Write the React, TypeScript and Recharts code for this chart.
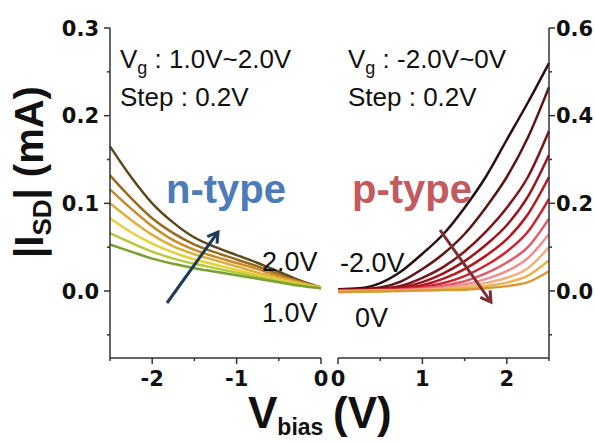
import React from "react";
import { LineChart, Line, XAxis, YAxis } from "recharts";

// Two-panel transfer curves: n-type branch (left, negative bias) and
// p-type branch (right, positive bias).

const N_BIAS = [-2.5, -2.25, -2, -1.75, -1.5, -1.25, -1, -0.75, -0.5, -0.25, 0];
const P_BIAS = [0, 0.25, 0.5, 0.75, 1, 1.25, 1.5, 1.75, 2, 2.25, 2.5];

// left panel, top curve (highest Vg) first
const N_CURVES: number[][] = [
  [0.165, 0.13, 0.1, 0.078, 0.061, 0.05, 0.041, 0.032, 0.022, 0.012, 0.004],
  [0.132, 0.106, 0.083, 0.066, 0.053, 0.044, 0.036, 0.028, 0.019, 0.011, 0.004],
  [0.116, 0.094, 0.074, 0.058, 0.047, 0.039, 0.032, 0.025, 0.017, 0.01, 0.004],
  [0.1, 0.081, 0.064, 0.051, 0.042, 0.035, 0.028, 0.021, 0.015, 0.009, 0.004],
  [0.083, 0.067, 0.054, 0.044, 0.036, 0.03, 0.024, 0.018, 0.013, 0.008, 0.004],
  [0.066, 0.055, 0.045, 0.037, 0.031, 0.026, 0.021, 0.016, 0.011, 0.007, 0.003],
  [0.053, 0.045, 0.037, 0.031, 0.026, 0.022, 0.018, 0.014, 0.01, 0.006, 0.003],
];
const N_COLORS = ["#5b4a1c", "#9a6b1f", "#c98a2a", "#dcae3a", "#e6cf3a", "#b9c83a", "#79a030"];

// right panel, Vg = -2.0V (top) ... 0V (bottom)
const P_CURVES: number[][] = [
  [0.004, 0.006, 0.018, 0.045, 0.085, 0.13, 0.19, 0.26, 0.345, 0.43, 0.52],
  [0.003, 0.004, 0.008, 0.022, 0.05, 0.085, 0.13, 0.19, 0.26, 0.35, 0.465],
  [0.002, 0.003, 0.005, 0.012, 0.03, 0.055, 0.09, 0.135, 0.19, 0.26, 0.365],
  [0.002, 0.002, 0.004, 0.008, 0.02, 0.04, 0.068, 0.105, 0.15, 0.215, 0.31],
  [0.001, 0.002, 0.003, 0.006, 0.013, 0.028, 0.05, 0.08, 0.118, 0.175, 0.26],
  [0.001, 0.001, 0.002, 0.004, 0.009, 0.018, 0.034, 0.058, 0.09, 0.135, 0.21],
  [0, 0.001, 0.002, 0.003, 0.006, 0.012, 0.022, 0.04, 0.065, 0.1, 0.165],
  [0, 0, 0.001, 0.002, 0.004, 0.008, 0.015, 0.027, 0.045, 0.075, 0.13],
  [-0.001, 0, 0.001, 0.001, 0.003, 0.005, 0.01, 0.018, 0.03, 0.052, 0.1],
  [-0.002, -0.001, 0, 0.001, 0.002, 0.003, 0.006, 0.011, 0.019, 0.035, 0.07],
  [-0.003, -0.002, -0.001, 0, 0.001, 0.002, 0.003, 0.006, 0.011, 0.02, 0.045],
];
const P_COLORS = [
  "#2b0f0f", "#5c1414", "#7d1518", "#9b141c", "#b5161f", "#cc2430",
  "#e05a6a", "#ec8c8c", "#f2b080", "#eeb050", "#d89a30",
];

const N_XTICKS = [-2.5, -2, -1.5, -1, -0.5, 0];
const P_XTICKS = [0, 0.5, 1, 1.5, 2, 2.5];
const N_YTICKS = [-0.05, 0, 0.05, 0.1, 0.15, 0.2, 0.25, 0.3];
const P_YTICKS = [-0.1, 0, 0.1, 0.2, 0.3, 0.4, 0.5, 0.6];

const AXIS = "#333";
const TICK_FONT = "'DejaVu Sans', sans-serif";
const LABEL_FONT = "'Liberation Sans', Arial, sans-serif";

const nRows = N_BIAS.map((x, i) => {
  const row: Record<string, number> = { x };
  N_CURVES.forEach((c, k) => (row["n" + k] = c[i]));
  return row;
});
const pRows = P_BIAS.map((x, i) => {
  const row: Record<string, number> = { x };
  P_CURVES.forEach((c, k) => (row["p" + k] = c[i]));
  return row;
});

const isMajor = (v: number, step: number) => Math.abs(v / step - Math.round(v / step)) < 1e-6;

function XTick({ x, y, payload }: any) {
  const major = isMajor(payload.value, 1);
  return (
    <g>
      <line x1={x} x2={x} y1={y} y2={y + (major ? 6 : 3)} stroke={AXIS} strokeWidth={1.5} />
      {major && (
        <text x={x} y={y + 20} dy="0.36em" textAnchor="middle" fontFamily={TICK_FONT}
          fontWeight={700} fontSize={21} fill="#111">
          {String(payload.value)}
        </text>
      )}
    </g>
  );
}

function YTickLeft({ x, y, payload }: any) {
  const major = isMajor(payload.value, 0.1);
  return (
    <g>
      <line x1={x} x2={x - (major ? 6 : 3)} y1={y} y2={y} stroke={AXIS} strokeWidth={1.5} />
      {major && (
        <text x={x - 11} y={y} dy="0.36em" textAnchor="end" fontFamily={TICK_FONT}
          fontWeight={700} fontSize={21} fill="#111">
          {payload.value.toFixed(1)}
        </text>
      )}
    </g>
  );
}

function YTickRight({ x, y, payload }: any) {
  const major = isMajor(payload.value, 0.2);
  return (
    <g>
      <line x1={x} x2={x + (major ? 6 : 3)} y1={y} y2={y} stroke={AXIS} strokeWidth={1.5} />
      {major && (
        <text x={x + 7} y={y} dy="0.36em" textAnchor="start" fontFamily={TICK_FONT}
          fontWeight={700} fontSize={21} fill="#111">
          {payload.value.toFixed(1)}
        </text>
      )}
    </g>
  );
}

const axisLine = { stroke: AXIS, strokeWidth: 1.5 };

export default function App() {
  return (
    <div style={{ position: "absolute", left: 0, top: 0, width: 595, height: 443, background: "#fff" }}>
      <div style={{ position: "absolute", left: 0, top: 0 }}>
        <LineChart width={330} height={443} data={nRows}
          margin={{ top: 28, right: 9, bottom: 55, left: 60 }}>
          <XAxis dataKey="x" type="number" domain={[-2.5, 0]} ticks={N_XTICKS} interval={0}
            height={30} tickSize={0} tickMargin={0} tickLine={false} axisLine={axisLine} tick={<XTick />} />
          <XAxis xAxisId="f" dataKey="x" type="number" domain={[-2.5, 0]} orientation="top"
            height={0} tick={false} tickLine={false} axisLine={axisLine} />
          <YAxis yAxisId="v" type="number" domain={[-0.0764, 0.3]} allowDataOverflow ticks={N_YTICKS}
            interval={0} width={50} tickSize={0} tickMargin={0} tickLine={false} axisLine={axisLine}
            tick={<YTickLeft />} />
          <YAxis yAxisId="f" type="number" domain={[-0.0764, 0.3]} orientation="right" width={0}
            tick={false} tickLine={false} axisLine={axisLine} />
          {N_CURVES.map((_, k) => (
            <Line key={k} yAxisId="v" type="monotone" dataKey={"n" + k} stroke={N_COLORS[k]}
              strokeWidth={2.5} dot={false} isAnimationActive={false} />
          ))}
        </LineChart>
      </div>
      <div style={{ position: "absolute", left: 330, top: 0 }}>
        <LineChart width={265} height={443} data={pRows}
          margin={{ top: 28, right: 10, bottom: 55, left: 8 }}>
          <XAxis dataKey="x" type="number" domain={[0, 2.5]} ticks={P_XTICKS} interval={0}
            height={30} tickSize={0} tickMargin={0} tickLine={false} axisLine={axisLine} tick={<XTick />} />
          <XAxis xAxisId="f" dataKey="x" type="number" domain={[0, 2.5]} orientation="top"
            height={0} tick={false} tickLine={false} axisLine={axisLine} />
          <YAxis yAxisId="v" type="number" domain={[-0.153, 0.6]} allowDataOverflow ticks={P_YTICKS}
            interval={0} orientation="right" width={36} tickSize={0} tickMargin={0} tickLine={false}
            axisLine={axisLine} tick={<YTickRight />} />
          <YAxis yAxisId="f" type="number" domain={[-0.153, 0.6]} orientation="left" width={0}
            tick={false} tickLine={false} axisLine={axisLine} />
          {P_CURVES.map((_, k) => (
            <Line key={k} yAxisId="v" type="monotone" dataKey={"p" + k} stroke={P_COLORS[k]}
              strokeWidth={2.5} dot={false} isAnimationActive={false} />
          ))}
        </LineChart>
      </div>
      <svg width={595} height={443} style={{ position: "absolute", left: 0, top: 0, pointerEvents: "none" }}>
        <defs>
          <marker id="ahN" markerUnits="userSpaceOnUse" markerWidth={16} markerHeight={16}
            refX={12} refY={8} orient="auto">
            <path d="M2,2 L12,8 L2,14" fill="none" stroke="#1e3a56" strokeWidth={3} />
          </marker>
          <marker id="ahP" markerUnits="userSpaceOnUse" markerWidth={16} markerHeight={16}
            refX={12} refY={8} orient="auto">
            <path d="M2,2 L12,8 L2,14" fill="none" stroke="#7b3036" strokeWidth={3} />
          </marker>
        </defs>
        <g fontFamily={LABEL_FONT} fill="#111">
          <text transform="translate(43,172) rotate(-90)" textAnchor="middle" fontSize={40} fontWeight="bold">
            |I<tspan fontSize={26} dy={8}>SD</tspan><tspan dy={-8}>| (mA)</tspan>
          </text>
          <text x={248} y={428} fontSize={44} fontWeight="bold">
            V<tspan fontSize={23} dy={7}>bias</tspan><tspan x={333} dy={-7}>(V)</tspan>
          </text>

          <text x={120} y={68} fontSize={26}>
            V<tspan fontSize={18} dy={6}>g</tspan><tspan dy={-6}> : 1.0V~2.0V</tspan>
          </text>
          <text x={120} y={106} fontSize={26}>Step : 0.2V</text>
          <text x={348} y={68} fontSize={26}>
            V<tspan fontSize={18} dy={6}>g</tspan><tspan dy={-6}> : -2.0V~0V</tspan>
          </text>
          <text x={348} y={106} fontSize={26}>Step : 0.2V</text>

          <text x={166} y={203} fontSize={40} fontWeight="bold" fill="#4c7cb8">n-type</text>
          <text x={352} y={203} fontSize={40} fontWeight="bold" fill="#c25a5e">p-type</text>

          <text x={262} y={271} fontSize={27}>2.0V</text>
          <text x={262} y={322} fontSize={27}>1.0V</text>
          <text x={340} y={272} fontSize={27}>-2.0V</text>
          <text x={355} y={327} fontSize={27}>0V</text>
        </g>
        <line x1={167} y1={303} x2={218} y2={232} stroke="#1e3a56" strokeWidth={3} markerEnd="url(#ahN)" />
        <line x1={440} y1={230} x2={491} y2={302} stroke="#7b3036" strokeWidth={3} markerEnd="url(#ahP)" />
      </svg>
    </div>
  );
}
